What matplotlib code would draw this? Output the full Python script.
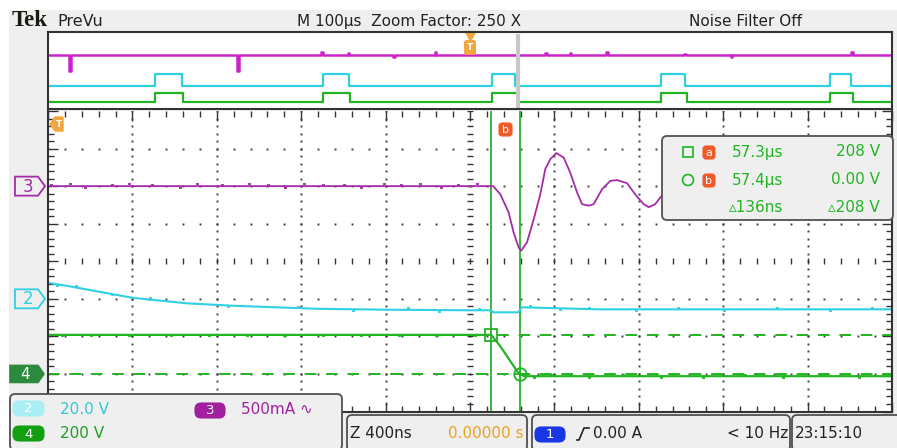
import numpy as np
import matplotlib.pyplot as plt
from matplotlib.patches import FancyBboxPatch, Polygon, Rectangle, Circle
from matplotlib.lines import Line2D

W, H = 897, 448
BG = '#efefef'
EDGE = '#333333'
DOT = '#404040'
PURPLE = '#a42ca8'
PURPLE_OV = '#cc22cc'
CYAN = '#2fd0e2'
GREEN = '#22b422'
ORANGE = '#f2a640'
RED = '#f05a28'

# channel setup: scale per division and offset in divisions
ch2_scale, ch2_offset = 20.0, -1.0    # V/div
ch3_scale, ch3_offset = 0.5, 2.0      # A/div
ch4_scale, ch4_offset = 200.0, -3.0   # V/div

# zoomed window, 400 ns/div, time in ns from the zoom centre
ns_per_div = 400
ch3_t = [-2000, 110, 144, 183, 207, 231, 242, 270, 302, 333, 357, 381, 409, 444,
         475, 507, 531, 563, 586, 626, 665, 697, 744, 783, 823, 847, 878, 902,
         960, 1040, 1120, 1200, 1300, 1400, 1550, 1700, 2000]
ch3_i = [0.0, 0.0, -0.11, -0.35, -0.62, -0.82, -0.86, -0.75, -0.44, -0.11, 0.23,
         0.36, 0.44, 0.38, 0.18, -0.08, -0.24, -0.26, -0.24, -0.04, 0.07, 0.08,
         0.04, -0.11, -0.24, -0.28, -0.24, -0.15, 0.0, 0.05, -0.05, -0.12, -0.05,
         0.02, -0.04, 0.0, 0.0]
# small glitches riding on the ch3 baseline
ch3_glitch_t = [-1990, -1900, -1830, -1700, -1620, -1510, -1380, -1300, -1180, -1050,
                -960, -880, -790, -700, -600, -520, -410, -330, -240, -140, -60, 30]
ch3_glitch_i = [0.02, 0.025, -0.02, 0.02, 0.025, 0.02, -0.02, 0.025, 0.02, 0.025,
                0.02, -0.02, 0.025, 0.02, 0.02, -0.02, 0.025, 0.02, 0.025, -0.02,
                0.02, 0.025]

ch2_t = [-2000, -1910, -1754, -1597, -1341, -1123, -725, -398, 0, 100, 110, 228,
         246, 332, 616, 2000]
ch2_v = [8.5, 6.9, 3.7, 0.5, -2.4, -3.7, -5.3, -5.8, -6.1, -6.1, -7.2, -7.2,
         -4.5, -4.8, -5.6, -5.6]
ch2_glitch_t = [-1960, -1870, -1700, -1520, -1150, -820, -560, -300, -150, 40,
                280, 420, 560, 780, 980, 1200, 1450, 1700, 1900]
ch2_glitch_v = [-0.8, 0.8, -0.8, 0.8, -0.8, 0.8, -0.8, 0.8, -0.8, 0.8,
                0.8, -0.8, 0.8, -0.8, 0.8, -0.8, 0.8, -0.8, 0.8]

ch4_t = [-2000, 100, 142, 190, 228, 256, 2000]
ch4_v = [208, 208, 150, 70, 7, -12, -12]
ch4_glitch_t = [-1940, -1800, -1620, -1420, -1240, -1060, -880, -700, -520, -340,
                -160, 20, 300, 380, 560, 720, 900, 1100, 1300, 1480, 1660, 1840]
ch4_glitch_v = [-8, -8, -8, -8, -8, -8, -8, -8, -8, -8,
                -8, -8, -8, 8, -8, 8, -8, -8, 8, -8, 8, -8]

cursor_t = [100, 236]     # ns
cursor_v = [208, 0]       # V (ch4)

# overview record, 100 us/div
trigger_us = 500.0
zoom_us = 557.2
pulse_on = [127, 326, 526, 726, 926]
ch2_pulse_off = [159, 357, 553, 755, 951]
ch4_pulse_off = [160, 358, 557, 757, 954]
ov_glitch_t = [26, 225, 325, 356, 410, 459, 590, 619, 662, 755, 810, 953]
ov_glitch_h = [-0.21, -0.21, 0.04, 0.03, -0.02, 0.04, 0.03, 0.03, 0.04, 0.02,
               -0.02, 0.04]

# layout in pixels
GX0, GX1, GY0, GY1 = 48, 892, 111, 411.5
DIVY = (GY1 - GY0) / 8


def ypx(div):
    return GY0 + (4 - div) * DIVY


fig = plt.figure(figsize=(W / 100, H / 100), dpi=100)
fig.patch.set_facecolor('white')

bg = fig.add_axes([0, 0, 1, 1], zorder=0)
bg.set_xlim(0, W)
bg.set_ylim(H, 0)
bg.axis('off')
bg.add_patch(Rectangle((9, 10), W, H, fc=BG, ec='none'))

# ---- main zoomed graticule
ax = fig.add_axes([GX0 / W, 1 - GY1 / H, (GX1 - GX0) / W, (GY1 - GY0) / H], zorder=1)
ax.set_facecolor('white')
ax.set_xlim(-5 * ns_per_div, 5 * ns_per_div)
ax.set_ylim(-4, 4)
for s in ['left', 'bottom', 'right']:
    ax.spines[s].set_color(EDGE)
    ax.spines[s].set_linewidth(1.5)
ax.spines['top'].set_visible(False)
ax.set_xticks(np.arange(-2000, 2001, 400))
ax.set_xticks(np.arange(-2000, 2001, 80), minor=True)
ax.set_yticks(np.arange(-4, 5, 1))
ax.set_yticks(np.arange(-4, 4.01, 0.2), minor=True)
ax.tick_params(which='major', direction='in', length=7, width=1, color=EDGE,
               top=True, right=True, labelbottom=False, labelleft=False)
ax.tick_params(which='minor', direction='in', length=4, width=1, color=EDGE,
               top=True, right=True)

xmin = np.arange(-2000, 2001, 80)
ymin = np.arange(-4, 4.01, 0.2)
for xv in np.arange(-1600, 1601, 400):
    if xv == 0:
        continue
    ax.plot(np.full_like(ymin, xv), ymin, ls='none', marker='s', ms=1.4, mew=0, color=DOT)
for yv in np.arange(-3, 4, 1):
    if yv == 0:
        continue
    ax.plot(xmin, np.full_like(xmin, yv, dtype=float), ls='none', marker='s', ms=1.4,
            mew=0, color=DOT)
# centre cross ticks
ax.hlines(ymin, -14, 14, color=EDGE, lw=1)
ax.vlines(xmin, -0.08, 0.08, color=EDGE, lw=1)

# cursors
ch4_cur = [ch4_offset + v / ch4_scale for v in cursor_v]
for yv in ch4_cur:
    ax.axhline(yv, color=GREEN, lw=1.4, dashes=(6, 5))
for tv in cursor_t:
    ax.axvline(tv, color='#3cb43c', lw=1.4)


def glitches(t_list, amp, base_t, base_v, scale, offset, color):
    base = np.interp(t_list, base_t, base_v)
    lv = offset + (base + np.array(amp)) / scale
    ax.hlines(lv, np.array(t_list), np.array(t_list) + 14, color=color, lw=1.3)


# traces
ax.plot(ch2_t, [ch2_offset + v / ch2_scale for v in ch2_v], color=CYAN, lw=1.5)
glitches(ch2_glitch_t, ch2_glitch_v, ch2_t, ch2_v, ch2_scale, ch2_offset, CYAN)
ax.plot(ch4_t, [ch4_offset + v / ch4_scale for v in ch4_v], color=GREEN, lw=1.6)
glitches(ch4_glitch_t, ch4_glitch_v, ch4_t, ch4_v, ch4_scale, ch4_offset, GREEN)
ax.plot(ch3_t, [ch3_offset + i / ch3_scale for i in ch3_i], color=PURPLE, lw=1.3)
glitches(ch3_glitch_t, ch3_glitch_i, ch3_t, ch3_i, ch3_scale, ch3_offset, PURPLE)

ax.plot(cursor_t[0], ch4_cur[0], marker='s', ms=9, mfc='none', mec=GREEN, mew=1.3)
ax.plot(cursor_t[1], ch4_cur[1], marker='o', ms=9, mfc='none', mec=GREEN, mew=1.3)
ax.plot(cursor_t[1], ch4_cur[1], marker='+', ms=9, mec=GREEN, mew=1.3)

# ---- overview record
oax = fig.add_axes([GX0 / W, 1 - 109 / H, (GX1 - GX0) / W, (109 - 32) / H], zorder=1)
oax.set_facecolor('white')
oax.set_xlim(0, 10 * 100)
oax.set_ylim(0, 1)
oax.set_xticks([])
oax.set_yticks([])
for s in oax.spines.values():
    s.set_color(EDGE)
    s.set_linewidth(1.5)


def pulses(on, off, base, top):
    xs, ys = [0], [base]
    for a, b in zip(on, off):
        xs += [a, a, b, b]
        ys += [base, top, top, base]
    xs.append(1000)
    ys.append(base)
    return xs, ys


xs, ys = pulses(pulse_on, ch2_pulse_off, 0.30, 0.455)
oax.plot(xs, ys, color=CYAN, lw=1.6)
xs, ys = pulses(pulse_on, ch4_pulse_off, 0.095, 0.21)
oax.plot(xs, ys, color=GREEN, lw=1.6)
gx, gy = [0], [0.70]
for t, h in zip(ov_glitch_t, ov_glitch_h):
    gx += [t - 1, t - 1, t + 1, t + 1]
    gy += [0.70, 0.70 + h, 0.70 + h, 0.70]
gx.append(1000)
gy.append(0.70)
oax.plot(gx, gy, color=PURPLE_OV, lw=1.8)
oax.axvline(zoom_us, ymin=0.04, ymax=0.95, color='#c8c8c8', lw=3)
oax.plot(trigger_us, 0.95, marker='v', ms=7, color=ORANGE, clip_on=False)
oax.text(trigger_us, 0.80, 'T', ha='center', va='center', fontsize=6.5, color='white',
         fontweight='bold',
         bbox=dict(boxstyle='round,pad=0.25', fc=ORANGE, ec=ORANGE))

# ---- overlay (pixel coordinates)
ov = fig.add_axes([0, 0, 1, 1], zorder=5)
ov.set_xlim(0, W)
ov.set_ylim(H, 0)
ov.axis('off')

ov.text(12, 26, 'Tek', fontfamily='Liberation Serif', fontweight='bold', fontsize=16.5,
        color='#1c1a10', va='baseline')
ov.text(57, 26, 'PreVu', fontsize=11.5, color='#222222', va='baseline')
ov.text(297, 26, 'M 100µs  Zoom Factor: 250 X', fontsize=11, color='#222222', va='baseline')
ov.text(689, 26, 'Noise Filter Off', fontsize=11, color='#222222', va='baseline')


def badge(x, y, w, h, fc, txt, r=6, fs=9.5):
    ov.add_patch(FancyBboxPatch((x, y), w, h, boxstyle=f'round,pad=0,rounding_size={r}',
                                fc=fc, ec=fc, lw=0.8))
    ov.text(x + w / 2, y + h / 2 + 0.5, txt, ha='center', va='center', color='white',
            fontsize=fs)


def ch_marker(y, color, label, filled):
    pts = [(15, y - 9.5), (38, y - 9.5), (45, y), (38, y + 9.5), (15, y + 9.5)]
    if filled:
        pts = [(10, y - 8.5), (38, y - 8.5), (44, y), (38, y + 8.5), (10, y + 8.5)]
        ov.add_patch(Polygon(pts, closed=True, fc=color, ec=color, lw=1.2))
        ov.text(25, y + 0.5, label, ha='center', va='center', color='white', fontsize=11)
    else:
        ov.add_patch(Polygon(pts, closed=True, fc=BG, ec=color, lw=1.3))
        ov.text(28, y + 0.5, label, ha='center', va='center', color=color, fontsize=12)


ch_marker(ypx(ch3_offset), PURPLE, '3', False)
ch_marker(ypx(ch2_offset), CYAN, '2', False)
ch_marker(ypx(ch4_offset), '#2c8a3c', '4', True)

# trigger flag (left, off screen) and cursor label
ov.add_patch(Polygon([(50, 124), (55, 117), (63, 117), (63, 131), (55, 131)], closed=True,
                     fc=ORANGE, ec=ORANGE))
ov.text(58.5, 124.5, 'T', ha='center', va='center', color='white', fontsize=6.5,
        fontweight='bold')
badge(499, 123, 13, 13, RED, 'b', r=3, fs=8)

# measurement readout
ov.add_patch(FancyBboxPatch((662, 136), 231, 84, boxstyle='round,pad=0,rounding_size=5',
                            fc=BG, ec='#505050', lw=1.3))
ov.add_patch(Rectangle((683, 147), 10, 10, fc='none', ec=GREEN, lw=1.2))
ov.add_patch(Circle((688, 180), 5.5, fc='none', ec=GREEN, lw=1.2))
badge(703, 146, 12, 13, RED, 'a', r=3, fs=8)
badge(703, 174, 12, 13, RED, 'b', r=3, fs=8)
rows = [('57.3µs', '208 V'), ('57.4µs', '0.00 V'), ('▵136ns', '▵208 V')]
for (l, r), yy, xl in zip(rows, [152, 180, 207], [732, 732, 729]):
    ov.text(xl, yy, l, fontsize=11, color=GREEN, va='center')
    ov.text(880, yy, r, fontsize=11, color=GREEN, va='center', ha='right')

# bottom status panels
ov.add_patch(FancyBboxPatch((10, 394), 332, 56, boxstyle='round,pad=0,rounding_size=5',
                            fc=BG, ec='#505050', lw=1.3))
for x0, w in [(347, 180), (532, 258), (792, 110)]:
    ov.add_patch(FancyBboxPatch((x0, 415), w, 36, boxstyle='round,pad=0,rounding_size=5',
                                fc=BG, ec='#505050', lw=1.3))
badge(13, 401, 31, 15, '#a8eef4', '2')
badge(13, 426, 31, 15, '#12a012', '4')
badge(195, 403, 30, 15, '#a020a0', '3')
badge(535, 427, 30, 15, '#1838e8', '1')
ov.text(60, 409, '20.0 V', fontsize=11, color='#30c8d8', va='center')
ov.text(60, 433, '200 V', fontsize=11, color='#20a020', va='center')
ov.text(241, 410, '500mA ∿', fontsize=11, color='#a020a0', va='center')
ov.text(350, 433, 'Z 400ns', fontsize=11, color='#222222', va='center')
ov.text(523, 433, '0.00000 s', fontsize=11, color='#f0a020', va='center', ha='right')
ov.add_line(Line2D([577, 579, 584, 589], [440, 440, 428, 428], color='#222222', lw=1.2))
ov.text(593, 433, '0.00 A', fontsize=11, color='#222222', va='center')
ov.text(788, 433, '< 10 Hz', fontsize=11, color='#222222', va='center', ha='right')
ov.text(795, 433, '23:15:10', fontsize=11, color='#222222', va='center')

fig.savefig('out.png', dpi=100)
